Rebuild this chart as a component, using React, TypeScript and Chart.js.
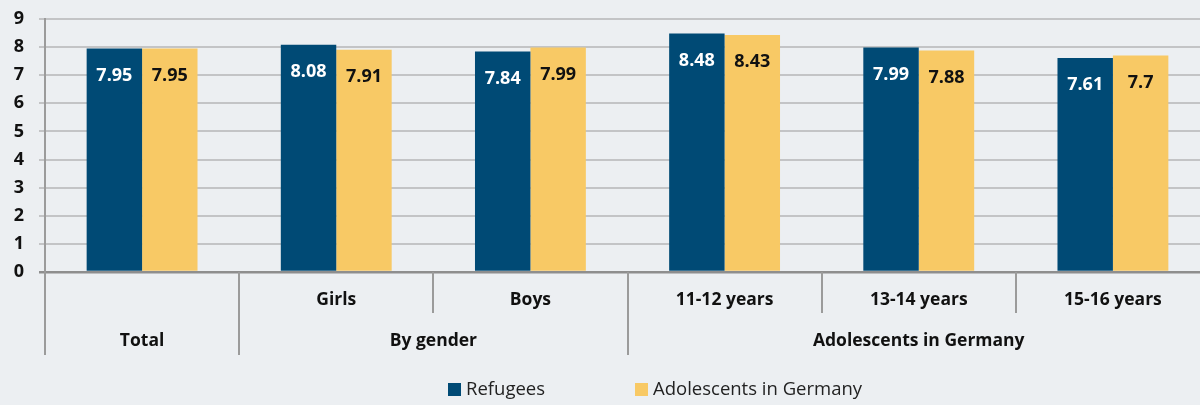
import React, { useEffect, useRef } from "react";
import { Chart, registerables } from "chart.js";
Chart.register(...registerables);

const categories = ["", "Girls", "Boys", "11-12 years", "13-14 years", "15-16 years"];
const refugees = [7.95, 8.08, 7.84, 8.48, 7.99, 7.61];
const germany = [7.95, 7.91, 7.99, 8.43, 7.88, 7.7];
const seriesNames = ["Refugees", "Adolescents in Germany"];
const groupLabels = ["Total", "By gender", "Adolescents in Germany"];
const groupStarts = [0, 1, 3];
const groupEnds = [0, 2, 5];
const yMax = 9;

const NAVY = "#004a75";
const YELLOW = "#f8c965";
const BG = "#eceff2";
const FONT = "'Open Sans', 'Noto Sans', sans-serif";

const customPlugin = {
  id: "custom",
  afterDatasetsDraw(chart: any) {
    const ctx = chart.ctx;
    ctx.save();
    ctx.font = `bold 18px ${FONT}`;
    ctx.textAlign = "center";
    ctx.textBaseline = "middle";
    chart.data.datasets.forEach((ds: any, di: number) => {
      const meta = chart.getDatasetMeta(di);
      meta.data.forEach((bar: any, i: number) => {
        ctx.fillStyle = di === 0 ? "#ffffff" : "#111111";
        ctx.fillText(String(ds.data[i]), bar.x, bar.y + 27);
      });
    });
    ctx.restore();
  },
  afterDraw(chart: any) {
    const ctx = chart.ctx;
    const xs = chart.scales.x;
    const area = chart.chartArea;
    const n = categories.length;
    const bound = (i: number) => {
      if (i <= 0) return area.left;
      if (i >= n) return area.right;
      return (xs.getPixelForValue(i - 1) + xs.getPixelForValue(i)) / 2;
    };
    const base = area.bottom;
    ctx.save();
    ctx.strokeStyle = "#9b9b9b";
    ctx.lineWidth = 2;
    for (let i = 0; i < n; i++) {
      const long = groupStarts.includes(i);
      const x = Math.round(bound(i));
      ctx.beginPath();
      ctx.moveTo(x, base);
      ctx.lineTo(x, base + (long ? 83 : 41));
      ctx.stroke();
    }
    ctx.fillStyle = "#111111";
    ctx.font = `bold 17.5px ${FONT}`;
    ctx.textAlign = "center";
    ctx.textBaseline = "middle";
    categories.forEach((c, i) => {
      if (c) ctx.fillText(c, xs.getPixelForValue(i), base + 28);
    });
    groupLabels.forEach((g, k) => {
      const x = (bound(groupStarts[k]) + bound(groupEnds[k] + 1)) / 2;
      ctx.fillText(g, x, base + 69);
    });
    ctx.font = `18.5px ${FONT}`;
    ctx.textAlign = "left";
    const ly = 390;
    const items = [
      { x: 448, color: NAVY, text: seriesNames[0] },
      { x: 635, color: YELLOW, text: seriesNames[1] },
    ];
    items.forEach((it) => {
      ctx.fillStyle = it.color;
      ctx.fillRect(it.x, ly - 7, 13, 13);
      ctx.fillStyle = "#222222";
      ctx.fillText(it.text, it.x + 18, ly);
    });
    ctx.restore();
  },
};

export default function App() {
  const ref = useRef<HTMLCanvasElement | null>(null);
  useEffect(() => {
    if (!ref.current) return;
    const chart = new Chart(ref.current, {
      type: "bar",
      data: {
        labels: categories,
        datasets: [
          { label: seriesNames[0], data: refugees, backgroundColor: NAVY, categoryPercentage: 0.571, barPercentage: 1.0 },
          { label: seriesNames[1], data: germany, backgroundColor: YELLOW, categoryPercentage: 0.571, barPercentage: 1.0 },
        ],
      },
      options: {
        animation: false,
        responsive: false,
        maintainAspectRatio: false,
        devicePixelRatio: 1,
        layout: { padding: { top: 0, right: 2, bottom: 133, left: 0 } },
        plugins: { legend: { display: false }, tooltip: { enabled: false } },
        scales: {
          x: {
            ticks: { display: false },
            grid: { display: false, drawTicks: false },
            border: { display: false },
          },
          y: {
            min: 0,
            max: yMax,
            ticks: { stepSize: 1, color: "#111111", font: { family: FONT, size: 18, weight: "bold" }, padding: 15 },
            grid: {
              color: (c: any) => (c.tick && c.tick.value === 0 ? "#8e8e8e" : "#c3c4c6"),
              lineWidth: (c: any) => (c.tick && c.tick.value === 0 ? 2.5 : 2),
              tickLength: 6,
            },
            border: { color: "#9b9b9b", width: 2 },
            afterFit: (s: any) => {
              s.width = 45;
              s.paddingTop = 19;
              s.paddingBottom = 0;
            },
          },
        },
      },
      plugins: [customPlugin],
    } as any);
    return () => chart.destroy();
  }, []);
  return (
    <div style={{ position: "fixed", left: 0, top: 0, width: 1200, height: 405, overflow: "hidden", background: BG }}>
      <canvas ref={ref} width={1212} height={405} style={{ display: "block", width: 1212, height: 405 }} />
    </div>
  );
}
